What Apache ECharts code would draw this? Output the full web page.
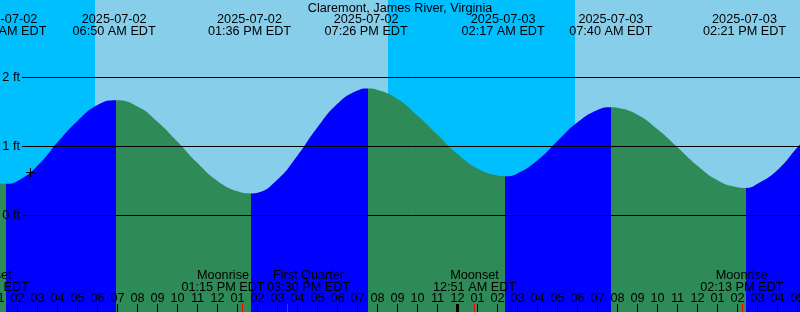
<!DOCTYPE html>
<html><head><meta charset="utf-8">
<script src="https://cdn.jsdelivr.net/npm/echarts@6/dist/echarts.min.js"></script>
<style>html,body{margin:0;padding:0;background:#87CEEB}#c{width:800px;height:312px}</style>
</head><body><div id="c"></div>
<script>
// All times are hours after 2025-07-02 00:00 EDT
const chartTitle = 'Claremont, James River, Virginia';

const tideTimes = [1.367, 6.833, 13.6, 19.433, 26.283, 31.667, 38.35];
const tideLabels = [
  '2025-07-02\n01:22 AM EDT', '2025-07-02\n06:50 AM EDT', '2025-07-02\n01:36 PM EDT',
  '2025-07-02\n07:26 PM EDT', '2025-07-03\n02:17 AM EDT', '2025-07-03\n07:40 AM EDT',
  '2025-07-03\n02:21 PM EDT'
];

// tide height (ft)
const curveTimes = [0, 1, 1.425, 2, 3, 4, 5, 6, 6.925, 8, 9, 10, 11, 12, 13, 13.675, 14, 15, 16, 17, 18, 19, 19.51,
  20, 21, 22, 23, 24, 25, 26, 26.375, 27, 28, 29, 30, 31, 31.675, 32, 33, 34, 35, 36, 37, 38, 38.425, 39, 40, 41, 42, 43];
const curveHeights = [0.56, 0.47, 0.46, 0.50, 0.72, 1.06, 1.37, 1.60, 1.67, 1.58, 1.36, 1.07, 0.76, 0.50, 0.35, 0.32, 0.33, 0.52, 0.87, 1.28, 1.62, 1.81, 1.84,
  1.82, 1.69, 1.45, 1.17, 0.89, 0.68, 0.58, 0.57, 0.61, 0.80, 1.08, 1.35, 1.53, 1.57, 1.56, 1.46, 1.25, 0.99, 0.72, 0.51, 0.41, 0.40, 0.46, 0.66, 0.99, 1.30, 1.55];

// times where the tide turns (fill colour changes), starting with a low water
const turnTimes = [1.425, 6.925, 13.675, 19.51, 26.375, 31.675, 38.425];

// night intervals (sunset -> sunrise)
const nightStart = [-1, 20.525];
const nightEnd = [5.875, 29.875];

const moonTimes = [0.49, 13.25, 15.5, 24.85, 38.217];
const moonNames = ['Moonset', 'Moonrise', 'First Quarter', 'Moonset', 'Moonrise'];
const moonClock = ['12:29 AM EDT', '01:15 PM EDT', '03:30 PM EDT', '12:51 AM EDT', '02:13 PM EDT'];

const levelValues = [0, 1, 2];
const levelNames = ['0 ft', '1 ft', '2 ft'];
const midnightTicks = [24];
const nowMark = [[2.65, 0.623]];

// ---- layout / style ----
const T_MIN = -1, T_MAX = 43;
const LEVEL_START = 2.225;
const FONT = 'Liberation Sans';
const FS = 12.7;
const C_RISE = '#0000FF', C_FALL = '#2E8B57', C_NIGHT = '#00BFFF';
// crowded moon labels are pushed apart (as in the original)
const MOON_NUDGE = { 1: 'pl', 2: 'pr' };

function hourLabel(v) {
  const h = ((Math.round(v) % 24) + 24) % 24;
  const h12 = h % 12 || 12;
  return (h12 < 10 ? '0' : '') + h12;
}
function nearest(times, v) {
  let best = 0;
  times.forEach((t, i) => { if (Math.abs(t - v) < Math.abs(times[best] - v)) best = i; });
  return best;
}
function moonLabel(v) {
  const i = nearest(moonTimes, v);
  const s = MOON_NUDGE[i] || 'n';
  return '{' + s + '|' + moonNames[i] + '}\n{' + s + '|' + moonClock[i] + '}';
}

const pieces = [{ lt: turnTimes[0], color: C_FALL }];
for (let i = 0; i < turnTimes.length; i++) {
  const p = { gte: turnTimes[i], color: i % 2 === 0 ? C_RISE : C_FALL };
  if (i + 1 < turnTimes.length) p.lt = turnTimes[i + 1];
  pieces.push(p);
}

const baseX = { type: 'value', min: T_MIN, max: T_MAX, z: 20, splitLine: { show: false },
  axisLine: { show: false, onZero: false } };
const txt = { color: '#000', fontFamily: FONT, fontSize: FS };

const chart = echarts.init(document.getElementById('c'), null, { renderer: 'canvas' });
chart.setOption({
  animation: false,
  backgroundColor: '#87CEEB',
  title: { text: chartTitle, left: 'center', top: 2, padding: 0, z: 20,
    textStyle: { ...txt, fontWeight: 'normal' } },
  grid: { left: -42.5, top: 0, width: (T_MAX - T_MIN) * 20, height: 312, containLabel: false, outerBoundsMode: 'none' },
  xAxis: [
    { ...baseX, position: 'bottom', interval: 1,
      axisTick: { inside: true, length: 8, lineStyle: { color: '#000', width: 1 } },
      axisLabel: { inside: true, margin: 7, formatter: hourLabel, ...txt, showMinLabel: true, showMaxLabel: true } },
    { ...baseX, position: 'bottom',
      axisTick: { inside: true, length: 8, customValues: midnightTicks, lineStyle: { color: '#000', width: 3 } },
      axisLabel: { show: false } },
    { ...baseX, position: 'bottom',
      axisTick: { inside: true, length: 8, customValues: moonTimes, lineStyle: { color: '#FF0000', width: 1 } },
      axisLabel: { inside: true, margin: 18, customValues: moonTimes, lineHeight: 12.6,
        formatter: moonLabel, ...txt,
        rich: {
          n: { ...txt, lineHeight: 12.6 },
          pl: { ...txt, lineHeight: 12.6, padding: [0, 39, 0, 0] },
          pr: { ...txt, lineHeight: 12.6, padding: [0, 0, 0, 42] }
        } } },
    { ...baseX, position: 'top',
      axisTick: { show: false },
      axisLabel: { inside: true, margin: 13, customValues: tideTimes, lineHeight: 12.6,
        formatter: v => tideLabels[nearest(tideTimes, v)], ...txt } }
  ],
  yAxis: { type: 'value', min: -96.5 / 69, max: 215.5 / 69, show: false },
  visualMap: { type: 'piecewise', show: false, dimension: 0, seriesIndex: 0, pieces },
  series: [
    { type: 'line', xAxisIndex: 0,
      data: curveTimes.map((t, i) => [t, curveHeights[i]]),
      smooth: 0.5, symbol: 'none',
      lineStyle: { width: 0, opacity: 0 },
      areaStyle: { origin: 'start', opacity: 1 },
      markArea: { silent: true, z: 1, itemStyle: { color: C_NIGHT, borderWidth: 0 },
        data: nightStart.map((s, i) => [{ xAxis: s }, { xAxis: nightEnd[i] }]) },
      markLine: { silent: true, symbol: ['none', 'none'],
        lineStyle: { color: '#000', width: 1, type: 'solid' },
        label: { position: 'start', distance: 2, formatter: '{b}', ...txt },
        data: levelValues.map((v, i) => [{ coord: [LEVEL_START, v], name: levelNames[i] }, { coord: [T_MAX, v] }]) }
    },
    { type: 'scatter', xAxisIndex: 0, data: nowMark, z: 10,
      symbol: 'path://M0 5H10M5 0V10', symbolSize: 9,
      itemStyle: { color: 'none', borderColor: '#000', borderWidth: 1, opacity: 1 } }
  ]
});
</script>
</body></html>
